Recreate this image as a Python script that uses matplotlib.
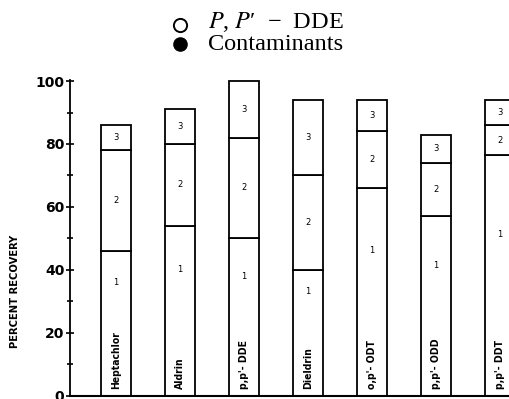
import matplotlib
matplotlib.use('Agg')
import matplotlib.pyplot as plt
from matplotlib.lines import Line2D
from matplotlib.ticker import MultipleLocator

# cumulative percent recovery after each elution fraction
compounds = ['Heptachlor', 'Aldrin', "p,p'- DDE", 'Dieldrin', "o,p'- ODT", "p,p'- ODD", "p,p'- DDT"]
frac1 = [46, 54, 50, 40, 66, 57, 76.5]
frac2 = [78, 80, 82, 70, 84, 74, 86]
frac3 = [86, 91, 100, 94, 94, 83, 94]

plt.rcParams['mathtext.fontset'] = 'stix'

W, H = 509, 399
fig = plt.figure(figsize=(W / 100, H / 100), dpi=100)
ax = fig.add_axes([70 / W, 3.5 / H, 439 / W, 316 / H])

x = list(range(len(compounds)))
w = 0.48
bottoms = [0] * len(x)
for k, top in enumerate([frac1, frac2, frac3]):
    heights = [t - b for t, b in zip(top, bottoms)]
    ax.bar(x, heights, bottom=bottoms, width=w, color='white',
           edgecolor='black', linewidth=1.3)
    for xi, b, h in zip(x, bottoms, heights):
        # fraction 1 label sits above the compound name
        yl = b + h / 2 + (13 if k == 0 else 0)
        ax.text(xi, yl, str(k + 1), ha='center', va='center', fontsize=6)
    bottoms = top

for xi, name in zip(x, compounds):
    ax.text(xi, 2, name, rotation=90, ha='center', va='bottom',
            fontsize=7.5, fontweight='bold', fontstretch='condensed')

ax.set_xlim(-0.72, 6.14)
ax.set_ylim(0, 100.5)
ax.yaxis.set_major_locator(MultipleLocator(20))
ax.yaxis.set_minor_locator(MultipleLocator(10))
ax.tick_params(axis='y', which='major', direction='inout', length=6, width=1.2,
               labelsize=10, pad=1)
ax.tick_params(axis='y', which='minor', direction='inout', length=5, width=1.2)
for lab in ax.get_yticklabels():
    lab.set_fontweight('bold')
ax.set_xticks([])
ax.spines['top'].set_visible(False)
ax.spines['right'].set_visible(False)
ax.spines['left'].set_linewidth(1.3)
ax.spines['bottom'].set_linewidth(1.5)
ax.set_ylabel('PERCENT RECOVERY', fontsize=8, fontweight='bold',
              fontstretch='condensed')
ax.yaxis.set_label_coords(-0.115, 0.33)

# key at the top
fig.add_artist(Line2D([180 / W], [1 - 24.5 / H], transform=fig.transFigure, marker='o',
                      ms=9.5, mfc='white', mec='black', mew=1.4))
fig.add_artist(Line2D([180 / W], [1 - 44 / H], transform=fig.transFigure, marker='o',
                      ms=9.5, mfc='black', mec='black'))
fig.text(208 / W, 1 - 28.5 / H, "$P$, $P$\u2032  \u2212  DDE", family='Liberation Serif',
         fontsize=17.5, va='baseline', ha='left')
fig.text(208 / W, 1 - 50.5 / H, 'Contaminants', family='Liberation Serif',
         fontsize=17.5, va='baseline', ha='left')

fig.savefig('out.png', dpi=100)
